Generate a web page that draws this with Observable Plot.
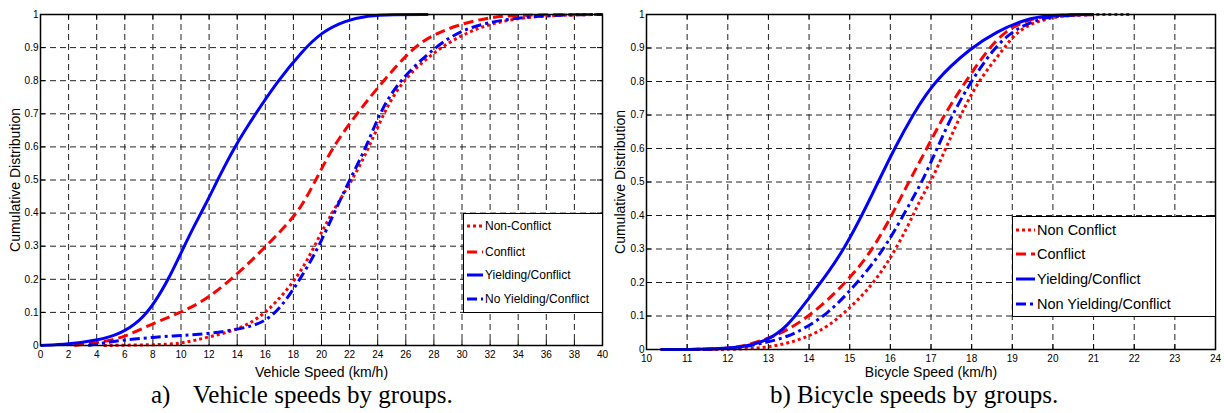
<!DOCTYPE html>
<html><head><meta charset="utf-8">
<script src="https://cdn.jsdelivr.net/npm/d3@7"></script>
<script src="https://cdn.jsdelivr.net/npm/@observablehq/plot@0.6"></script>
<style>
body{margin:0;background:#fff;width:1224px;height:413px;position:relative;overflow:hidden;font-family:"Liberation Sans",Arial,sans-serif;}
.panel{position:absolute;top:0;}
.legend{position:absolute;background:#fff;border:1.5px solid #000;box-sizing:border-box;}
.row{position:absolute;left:0;height:0;white-space:nowrap;}
.row svg{position:absolute;top:-3px;}
.row span{position:absolute;top:0;transform:translateY(-50%);color:#000;line-height:1;}
.caption{position:absolute;font-family:"Liberation Serif","Times New Roman",serif;font-size:25px;line-height:1;white-space:nowrap;color:#000;}
</style></head><body>
<div id="left" class="panel" style="left:0"></div>
<div id="right" class="panel" style="left:612px"></div>
<div class="caption" style="left:151px;top:382px">a)</div>
<div class="caption" style="left:193px;top:382px">Vehicle speeds by groups.</div>
<div class="caption" style="left:770px;top:382px">b) Bicycle speeds by groups.</div>
<script>
// ---------- shared axis data ----------
const yTicks = [0, 0.1, 0.2, 0.3, 0.4, 0.5, 0.6, 0.7, 0.8, 0.9, 1];
const yTickLabels = ["0", "0.1", "0.2", "0.3", "0.4", "0.5", "0.6", "0.7", "0.8", "0.9", "1"];
const yTitle = "Cumulative Distribution";

// ---------- a) Vehicle speeds ----------
const vehicleTicks = [0, 2, 4, 6, 8, 10, 12, 14, 16, 18, 20, 22, 24, 26, 28, 30, 32, 34, 36, 38, 40];
const vehicleTitle = "Vehicle Speed (km/h)";
const vehicleNames = ["Non-Conflict", "Conflict", "Yielding/Conflict", "No Yielding/Conflict"];

const vNonX = [4.5, 8, 10, 11.9, 14.3, 15.95, 17.1, 18.1, 19, 19.9, 21, 22.2, 23.4, 24.4, 25.7, 28.3, 31.4, 35.2, 40];
const vNonY = [0, 0.002, 0.005, 0.025, 0.05, 0.096, 0.146, 0.198, 0.257, 0.335, 0.42, 0.5, 0.6, 0.7, 0.8, 0.9, 0.97, 0.998, 1];

const vConfX = [2.4, 4, 5.7, 7.9, 10, 11.9, 14.3, 16, 18.1, 18.9, 19.6, 20.8, 22.5, 24.4, 26.5, 28, 29.8, 32, 34, 40];
const vConfY = [0, 0.008, 0.02, 0.065, 0.1, 0.14, 0.227, 0.297, 0.39, 0.445, 0.5, 0.6, 0.7, 0.8, 0.9, 0.94, 0.97, 0.992, 0.999, 1];

const vYieldX = [0, 2, 4, 5.7, 7.1, 8.1, 9.3, 10, 11, 11.9, 12.6, 13.8, 15.3, 16.9, 18.6, 20, 21.7, 23.3, 25, 27.6];
const vYieldY = [0, 0.004, 0.015, 0.035, 0.075, 0.126, 0.216, 0.28, 0.367, 0.438, 0.5, 0.6, 0.7, 0.8, 0.888, 0.947, 0.982, 0.997, 1, 1];

const vNoYX = [3.4, 4.5, 6, 8, 10, 12, 14.3, 15.95, 17.1, 18.1, 19, 19.9, 21, 22, 23.2, 24.1, 25.5, 28, 30.5, 35.2, 40];
const vNoYY = [0, 0.008, 0.017, 0.025, 0.03, 0.036, 0.05, 0.07, 0.115, 0.176, 0.237, 0.307, 0.41, 0.5, 0.6, 0.7, 0.8, 0.9, 0.97, 0.998, 1];

// ---------- b) Bicycle speeds ----------
const bicycleTicks = [10, 11, 12, 13, 14, 15, 16, 17, 18, 19, 20, 21, 22, 23, 24];
const bicycleTitle = "Bicycle Speed (km/h)";
const bicycleNames = ["Non Conflict", "Conflict", "Yielding/Conflict", "Non Yielding/Conflict"];

const bNonX = [10.35, 12, 12.5, 12.97, 13.46, 13.95, 14.45, 14.94, 15.44, 15.93, 16.43, 16.76, 17.0, 17.36, 17.73, 18.15, 18.8, 19.12, 19.6, 20.2, 21, 21.9];
const bNonY = [0, 0, 0.002, 0.007, 0.018, 0.037, 0.067, 0.117, 0.177, 0.256, 0.366, 0.455, 0.5, 0.6, 0.7, 0.8, 0.9, 0.95, 0.98, 0.997, 1, 1];

const bConfX = [10.35, 11.5, 12.3, 12.97, 13.46, 13.95, 14.45, 14.94, 15.44, 15.93, 16.45, 16.9, 17.32, 17.85, 18.42, 18.83, 19.3, 19.8, 21];
const bConfY = [0, 0, 0.005, 0.032, 0.057, 0.096, 0.146, 0.206, 0.276, 0.375, 0.5, 0.6, 0.7, 0.8, 0.9, 0.95, 0.98, 0.997, 1];

const bYieldX = [10.35, 11, 11.8, 12.5, 12.97, 13.46, 13.95, 14.45, 14.86, 15.3, 15.7, 16.1, 16.55, 17.07, 17.97, 18.63, 19.3, 19.9, 21];
const bYieldY = [0, 0, 0.002, 0.01, 0.027, 0.067, 0.146, 0.226, 0.3, 0.4, 0.5, 0.6, 0.7, 0.8, 0.9, 0.95, 0.985, 0.999, 1];

const bNoYX = [10.35, 11.5, 12.3, 12.97, 13.46, 13.95, 14.45, 14.94, 15.44, 15.93, 16.43, 16.78, 17.15, 17.52, 17.98, 18.55, 19, 19.5, 20, 21];
const bNoYY = [0, 0, 0.004, 0.022, 0.037, 0.067, 0.107, 0.166, 0.236, 0.316, 0.425, 0.5, 0.6, 0.7, 0.8, 0.9, 0.95, 0.98, 0.996, 1];

// ---------- styles ----------
const lineColors = ["#ff0000", "#ff0000", "#0000ff", "#0000ff"];
const lineDashes = ["3,3", "10,5", null, "10,4,3,4"];

function rows(xs, ys) { return xs.map((x, i) => ({x, y: ys[i]})); }

function makeChart(o) {
  const frameH = o.height - o.mt - o.mb;
  const frameW = o.width - o.ml - o.mr;
  const gridStyle = {stroke: "#222", strokeOpacity: 1, strokeWidth: 1, strokeDasharray: "6,4"};
  const lineMarks = o.series.map((s, i) => Plot.line(rows(s[0], s[1]), {
    x: "x", y: "y", stroke: lineColors[i], strokeWidth: 3,
    strokeDasharray: lineDashes[i], strokeLinecap: "butt", curve: "basis"
  }));
  return Plot.plot({
    width: o.width, height: o.height,
    marginTop: o.mt, marginBottom: o.mb, marginLeft: o.ml, marginRight: o.mr,
    style: {fontFamily: "Liberation Sans, Arial, sans-serif", fontSize: "10px", color: "#000", background: "#fff", overflow: "visible"},
    x: {domain: o.xDomain, label: null},
    y: {domain: [0, 1], label: null},
    marks: [
      Plot.gridX(o.xTicks, gridStyle),
      Plot.gridY(yTicks, gridStyle),
      Plot.ruleX(o.xTicks, {stroke: "#000", insetTop: frameH - 5}),
      Plot.ruleX(o.xTicks, {stroke: "#000", insetBottom: frameH - 5}),
      Plot.ruleY(yTicks, {stroke: "#000", insetRight: frameW - 5}),
      Plot.ruleY(yTicks, {stroke: "#000", insetLeft: frameW - 5}),
      ...lineMarks,
      Plot.frame({stroke: "#000", strokeWidth: 1.5}),
      Plot.axisX(o.xTicks, {tickSize: 0, tickPadding: o.xPad, label: null, tickFormat: d => String(d)}),
      Plot.axisY(yTicks, {tickSize: 0, tickPadding: 2, label: null, tickFormat: d => yTickLabels[yTicks.indexOf(d)]}),
      Plot.text([o.xTitle], {frameAnchor: "bottom", textAnchor: "middle", lineAnchor: "bottom", dy: o.xTitleDy, fontSize: 14}),
      Plot.text([yTitle], {frameAnchor: "left", textAnchor: "middle", lineAnchor: "middle", rotate: -90, dx: o.yTitleDx, fontSize: 14})
    ]
  });
}

document.getElementById("left").appendChild(makeChart({
  width: 612, height: 380, mt: 14, mb: 35, ml: 40, mr: 10,
  xDomain: [0, 40], xTicks: vehicleTicks, xPad: 5, xTitle: vehicleTitle, xTitleDy: 31, yTitleDx: -25,
  series: [[vNonX, vNonY], [vConfX, vConfY], [vYieldX, vYieldY], [vNoYX, vNoYY]]
}));
document.getElementById("right").appendChild(makeChart({
  width: 612, height: 380, mt: 14, mb: 31, ml: 34, mr: 9,
  xDomain: [10, 24], xTicks: bicycleTicks, xPad: 5, xTitle: bicycleTitle, xTitleDy: 27, yTitleDx: -25.5,
  series: [[bNonX, bNonY], [bConfX, bConfY], [bYieldX, bYieldY], [bNoYX, bNoYY]]
}));

// ---------- legends ----------
function makeLegend(names, box) {
  const lg = document.createElement("div");
  lg.className = "legend";
  Object.assign(lg.style, {left: box.left + "px", top: box.top + "px", width: box.width + "px", height: box.height + "px"});
  names.forEach((name, i) => {
    const row = document.createElement("div");
    row.className = "row";
    row.style.top = box.rows[i] + "px";
    const sw = box.swatch;
    const dash = lineDashes[i] ? `stroke-dasharray="${lineDashes[i]}"` : "";
    row.innerHTML = `<svg width="${sw}" height="6" style="left:${box.swLeft}px"><line x1="0" y1="3" x2="${sw}" y2="3" stroke="${lineColors[i]}" stroke-width="3" ${dash}/></svg>` +
      `<span style="left:${box.textLeft}px;font-size:${box.fontSize}px">${name}</span>`;
    lg.appendChild(row);
  });
  document.body.appendChild(lg);
}
makeLegend(vehicleNames, {left: 463, top: 213, width: 140, height: 100, rows: [12, 37.5, 61, 85], swatch: 16, swLeft: 3, textLeft: 21, fontSize: 12});
makeLegend(bicycleNames, {left: 1012, top: 216, width: 204, height: 101, rows: [13, 37, 62, 87], swatch: 19, swLeft: 3, textLeft: 24, fontSize: 14.5});
</script>
</body></html>
